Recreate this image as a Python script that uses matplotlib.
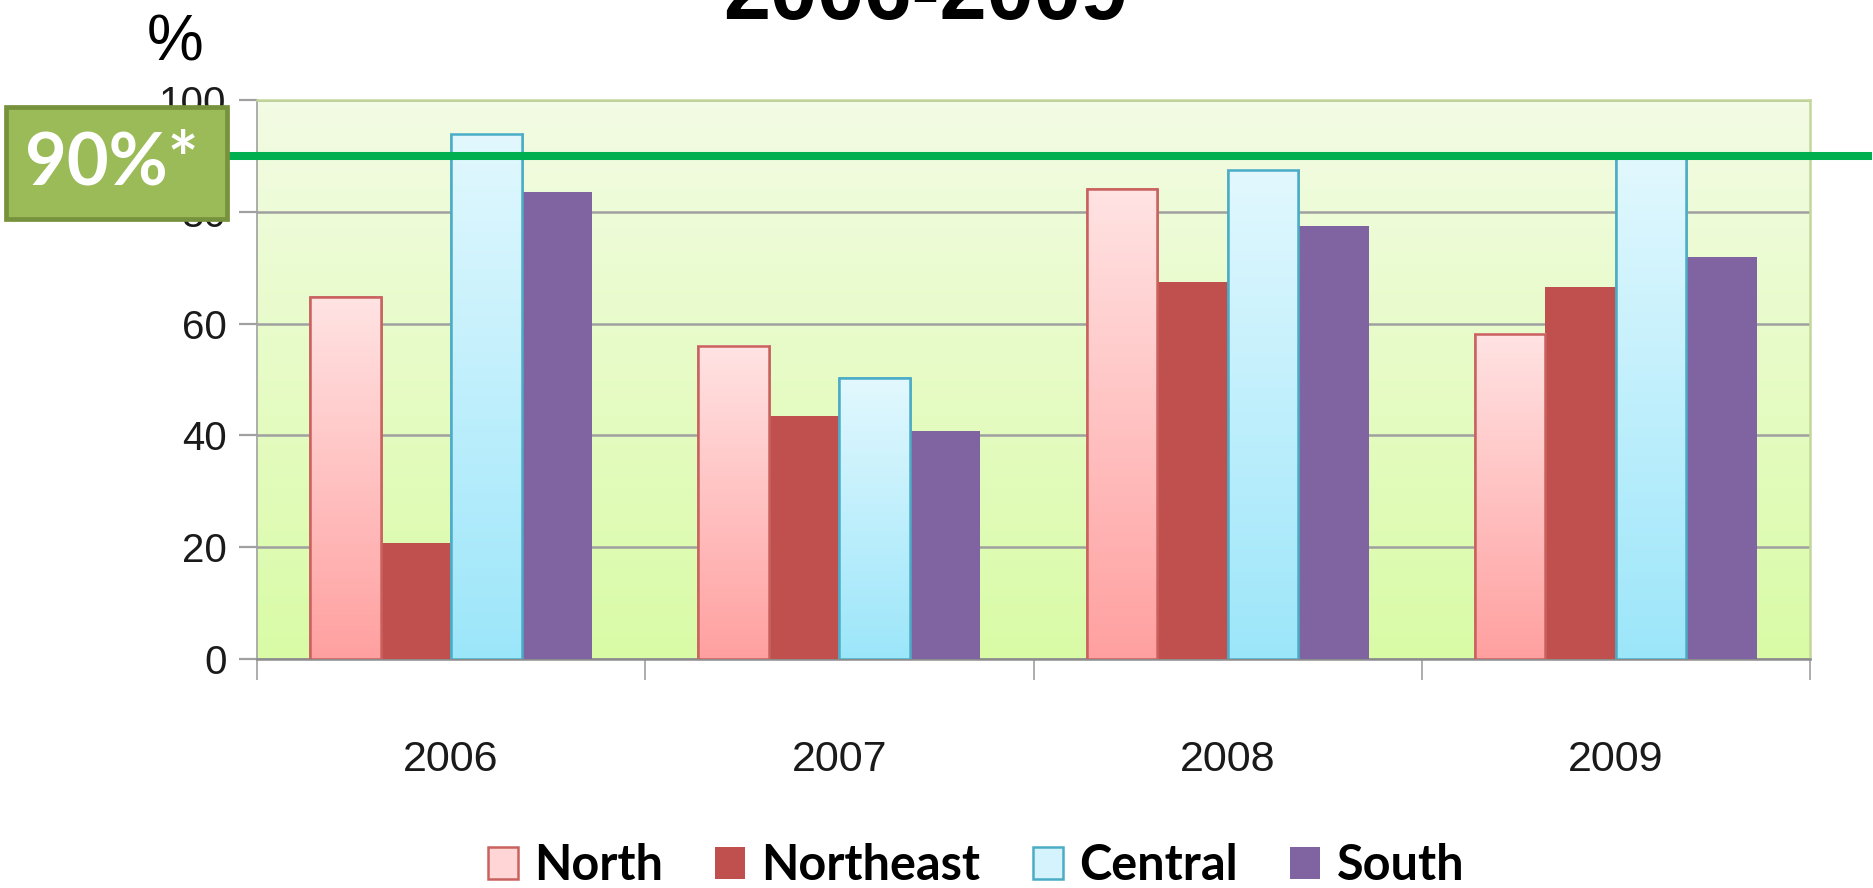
import numpy as np
import matplotlib.pyplot as plt
from matplotlib.colors import LinearSegmentedColormap
from matplotlib.patches import Rectangle, Patch

years = ["2006", "2007", "2008", "2009"]
regions = ["North", "Northeast", "Central", "South"]
north = [64.7, 56.0, 84.0, 58.2]
northeast = [20.7, 43.4, 67.4, 66.5]
central = [94.0, 50.2, 87.5, 90.5]
south = [83.5, 40.8, 77.4, 72.0]
target = 90
y_ticks = [0, 20, 40, 60, 80, 100]

grad = np.linspace(0, 1, 256).reshape(-1, 1)


def gradient_fill(ax, rects, top, bottom, z):
    cmap = LinearSegmentedColormap.from_list("g", [bottom, top])
    for r in rects:
        x0, w, h = r.get_x(), r.get_width(), r.get_height()
        ax.imshow(grad, cmap=cmap, origin="lower", aspect="auto",
                  extent=[x0, x0 + w, 0, h], zorder=z, interpolation="bicubic")


fig = plt.figure(figsize=(18.73, 8.88), dpi=100)
ax = fig.add_axes([0.1372, 0.2579, 0.8292, 0.6295])
ax.set_facecolor("none")

# plot area background
bg = LinearSegmentedColormap.from_list("bg", ["#D9FBA6", "#F3FCE4"])
ax.imshow(grad, cmap=bg, origin="lower", aspect="auto",
          extent=[-0.5, 3.5, 0, 100], zorder=0)

x = np.arange(len(years))
w = 0.1815

b1 = ax.bar(x - 1.5 * w, north, w, color="#FFD5D5", edgecolor="#C9625F", lw=1.8, zorder=3)
gradient_fill(ax, b1, "#FFE3E3", "#FFA0A0", 3.1)
ax.bar(x - 1.5 * w, north, w, fill=False, edgecolor="#C9625F", lw=1.8, zorder=3.3)

ax.bar(x - 0.5 * w, northeast, w, color="#C0504D", zorder=3)

b3 = ax.bar(x + 0.5 * w, central, w, color="#D5F3FC", edgecolor="#4BACC6", lw=1.8, zorder=3)
gradient_fill(ax, b3, "#E2F8FE", "#9CE6FA", 3.1)
ax.bar(x + 0.5 * w, central, w, fill=False, edgecolor="#4BACC6", lw=1.8, zorder=3.3)

ax.bar(x + 1.5 * w, south, w, color="#8064A2", zorder=3)

# 90% target line
ax.axhline(target, xmin=-0.07, xmax=1.037, color="#00B050", lw=5.8, zorder=4, clip_on=False)

ax.set_xlim(-0.5, 3.5)
ax.set_ylim(0, 100)
ax.set_yticks(y_ticks)
ax.set_axisbelow(True)
ax.yaxis.grid(True, color="#A0A0A0", lw=1.8)

ax.set_xticks(x)
ax.set_xticklabels(years)
ax.set_xticks(np.arange(-0.5, 4, 1), minor=True)
ax.tick_params(axis="x", which="major", length=0, pad=58, labelsize=31, labelcolor="#1a1a1a")
ax.tick_params(axis="x", which="minor", length=15, width=1.2, color="#A0A0A0")
ax.tick_params(axis="y", length=13, width=1.6, color="#A0A0A0", pad=9, labelsize=29,
               labelcolor="#1a1a1a")
for lab in ax.get_xticklabels() + ax.get_yticklabels():
    lab.set_family("Liberation Sans")

ax.spines["left"].set_color("#A0A0A0")
ax.spines["left"].set_linewidth(1.2)
ax.spines["bottom"].set_color("#8C8C8C")
ax.spines["bottom"].set_linewidth(1.8)
for s in ["top", "right"]:
    ax.spines[s].set_color("#C3D69B")
    ax.spines[s].set_linewidth(1.8)

# title (mostly above the frame) and axis unit
fig.text(0.494, 0.9786, "2006-2009", ha="center", va="baseline", fontsize=61,
         fontweight="bold", family="Liberation Sans")
fig.text(0.0934, 0.9324, "%", ha="center", va="baseline", fontsize=46, family="Liberation Sans")

# target box
fig.add_artist(Rectangle((0.0032, 0.7534), 0.118, 0.126, transform=fig.transFigure,
                         facecolor="#9BBB59", edgecolor="#76923C", lw=3.4, zorder=5))
fig.text(0.0598, 0.792, "90%*", ha="center", va="baseline", fontsize=52, fontweight="bold",
         family="Lato", color="white", zorder=6)

handles = [
    Patch(facecolor="#FFD5D5", edgecolor="#C9625F", lw=1.8),
    Patch(facecolor="#C0504D"),
    Patch(facecolor="#D5F3FC", edgecolor="#4BACC6", lw=1.8),
    Patch(facecolor="#8064A2"),
]
fig.legend(handles, regions, loc="center", bbox_to_anchor=(0.521, 0.025), ncol=4,
           frameon=False, handlelength=0.62, handleheight=0.62, handletextpad=0.33,
           columnspacing=1.08, prop={"family": "Lato", "weight": "bold", "size": 35})

fig.savefig("out.png", dpi=100)
